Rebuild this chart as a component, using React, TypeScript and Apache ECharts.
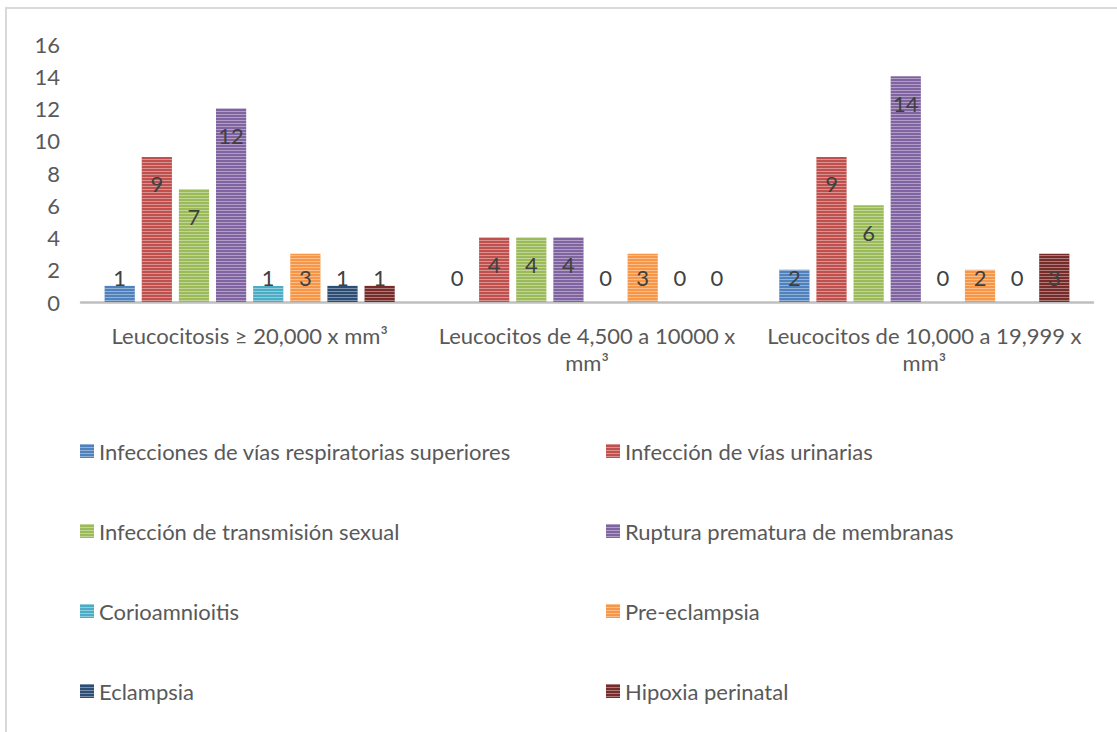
import React, { useEffect, useRef } from "react";
import * as echarts from "echarts";

const categories = [
  "Leucocitosis ≥ 20,000 x mm³",
  "Leucocitos de 4,500 a 10000 x\nmm³",
  "Leucocitos de 10,000 a 19,999 x\nmm³",
];

const seriesNames = [
  "Infecciones de vías respiratorias superiores",
  "Infección de vías urinarias",
  "Infección de transmisión sexual",
  "Ruptura prematura de membranas",
  "Corioamnioitis",
  "Pre-eclampsia",
  "Eclampsia",
  "Hipoxia perinatal",
];

const infeccionesRespiratorias = [1, 0, 2];
const infeccionUrinaria = [9, 4, 9];
const infeccionSexual = [7, 4, 6];
const rupturaMembranas = [12, 4, 14];
const corioamnioitis = [1, 0, 0];
const preEclampsia = [3, 3, 2];
const eclampsia = [1, 0, 0];
const hipoxiaPerinatal = [1, 0, 3];

const seriesValues = [
  infeccionesRespiratorias,
  infeccionUrinaria,
  infeccionSexual,
  rupturaMembranas,
  corioamnioitis,
  preEclampsia,
  eclampsia,
  hipoxiaPerinatal,
];

const colors = [
  "#4F81BD",
  "#C0504D",
  "#9BBB59",
  "#8064A2",
  "#4BACC6",
  "#F79646",
  "#2C4D75",
  "#772C2A",
];

const yTicks = { min: 0, max: 16, interval: 2 };

const FONT = "Lato";
const FS = 22;

export default function App() {
  const ref = useRef<HTMLDivElement>(null);

  useEffect(() => {
    if (!ref.current) return;
    const chart = echarts.init(ref.current, null, { renderer: "svg" });

    const decal = {
      symbol: "rect",
      symbolSize: 1,
      dashArrayX: [1, 0],
      dashArrayY: [1, 2],
      rotation: 0,
      color: "rgba(255,255,255,0.38)",
    };

    const series = seriesValues.map((vals, i) => ({
      name: seriesNames[i],
      type: "bar",
      barGap: "23%",
      barCategoryGap: "14%",
      itemStyle: { color: colors[i], decal },
      label: {
        show: true,
        color: "#404040",
        fontFamily: FONT,
        fontSize: FS,
      },
      data: vals.map((v) => ({
        value: v,
        label:
          v >= 4
            ? { position: "insideTop", distance: 16 }
            : { position: "insideBottom", distance: 14 },
      })),
    }));

    const legendText = {
      color: "#595959",
      fontFamily: FONT,
      fontSize: FS,
      lineHeight: 22,
    };

    chart.setOption({
      animation: false,
      aria: { enabled: false, decal: { show: false } },
      grid: { left: 81, right: 24, top: 44, bottom: 430 },
      graphic: [
        {
          type: "rect",
          shape: { x: 6, y: 8, width: 1200, height: 800 },
          style: { fill: "none", stroke: "#D9D9D9", lineWidth: 2 },
          silent: true,
          z: -10,
        },
      ],
      legend: [
        {
          orient: "vertical",
          left: 75,
          top: 435,
          itemWidth: 14,
          itemHeight: 14,
          itemGap: 58,
          icon: "rect",
          selectedMode: false,
          textStyle: legendText,
          data: [seriesNames[0], seriesNames[2], seriesNames[4], seriesNames[6]],
        },
        {
          orient: "vertical",
          left: 601,
          top: 435,
          itemWidth: 14,
          itemHeight: 14,
          itemGap: 58,
          icon: "rect",
          selectedMode: false,
          textStyle: legendText,
          data: [seriesNames[1], seriesNames[3], seriesNames[5], seriesNames[7]],
        },
      ],
      xAxis: {
        type: "category",
        data: categories,
        axisLine: { show: true, lineStyle: { color: "#BFBFBF", width: 2.5 } },
        axisTick: { show: false },
        axisLabel: {
          color: "#595959",
          fontFamily: FONT,
          fontSize: FS,
          lineHeight: 27,
          margin: 20,
          interval: 0,
        },
      },
      yAxis: {
        type: "value",
        min: yTicks.min,
        max: yTicks.max,
        interval: yTicks.interval,
        axisLine: { show: false },
        axisTick: { show: false },
        splitLine: { show: false },
        axisLabel: {
          color: "#595959",
          fontFamily: FONT,
          fontSize: FS,
          margin: 21,
        },
      },
      series,
    });

    return () => chart.dispose();
  }, []);

  return (
    <div
      ref={ref}
      style={{
        position: "fixed",
        left: 0,
        top: 0,
        width: 1117,
        height: 732,
        background: "#fff",
      }}
    />
  );
}
